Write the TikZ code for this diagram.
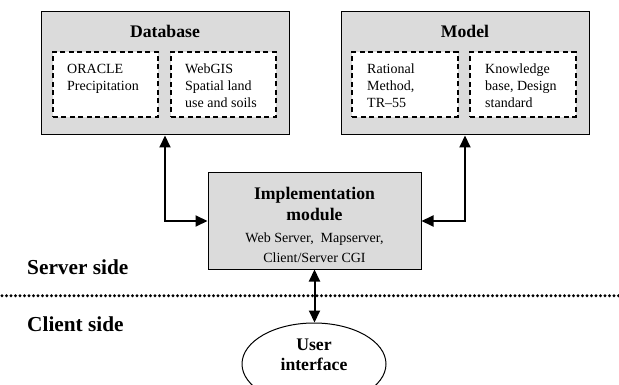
\documentclass[tikz,border=0pt]{standalone}
\usepackage{fontspec}
\setmainfont{Liberation Serif}
\usetikzlibrary{arrows.meta,shapes.geometric}

\begin{document}
\begin{tikzpicture}[x=1pt, y=-1pt,
  outerbox/.style={draw=black, line width=1pt, fill=black!14, minimum width=248pt, minimum height=123pt, inner sep=0pt},
  dashbox/.style={draw=black, line width=2pt, dash pattern=on 5pt off 3.5pt, fill=white, minimum width=105.5pt, minimum height=65pt, inner sep=0pt},
  boxtitle/.style={font=\fontsize{17.7}{20.3}\selectfont\bfseries, inner sep=0pt},
  intext/.style={font=\fontsize{14}{17}\selectfont, align=left, anchor=north west, inner sep=0pt},
  sidetext/.style={font=\fontsize{21.3}{24}\selectfont\bfseries, anchor=west, inner sep=0pt},
  link/.style={line width=2pt, {Triangle[length=12pt,width=11pt]}-{Triangle[length=12pt,width=11pt]}}]
\useasboundingbox (0,0) rectangle (619,385);

% database
\node[outerbox] (db) at (165,73.5) {};
\node[boxtitle] (dbtitle) at (165,31) {Database};
\node[dashbox] (dbora) at (105.5,84.5) {};
\node[dashbox] (dbgis) at (223.5,84.5) {};
\node[intext] (doratext) at (67,64) {ORACLE\\Precipitation};
\node[intext] (dgistext) at (185,64) {WebGIS\\Spatial land\\use and soils};

% model
\node[outerbox] (model) at (465,73.5) {};
\node[boxtitle] (modeltitle) at (465,31) {Model};
\node[dashbox] (mrat) at (405,84.5) {};
\node[dashbox] (mkb) at (523,84.5) {};
\node[intext] (mrattext) at (367,64) {Rational\\Method,\\TR--55};
\node[intext] (mkbtext) at (485,64) {Knowledge\\base, Design\\standard};

% implementation module
\node[outerbox, minimum width=213pt, minimum height=96pt] (impl) at (314.5,221) {};
\node[boxtitle, align=center] (impltitle) at (314.5,204) {Implementation\\module};
\node[font=\fontsize{14}{20}\selectfont, align=center, inner sep=0pt] (impltext) at (314.5,248) {Web Server,~~Mapserver,\\Client/Server CGI};

% user interface
\node[draw=black, line width=1pt, ellipse, minimum width=144pt, minimum height=82pt, inner sep=0pt] (ui) at (314,364) {};
\node[boxtitle, align=center] (uitext) at (314,355) {User\\interface};

% server / client
\node[sidetext] (server) at (27,267) {Server side};
\node[sidetext] (client) at (27,324) {Client side};
\coordinate (sepL) at (2,295.7);
\coordinate (sepR) at (619,295.7);
\draw[line width=3.2pt, line cap=round, dash pattern=on 0pt off 4.5pt] (sepL) -- (sepR);

\draw[link] (db.south) |- (impl.west);
\draw[link] (model.south) |- (impl.east);
\draw[link] (impl.south) -- (impl.south |- ui.north);
\end{tikzpicture}
\end{document}
